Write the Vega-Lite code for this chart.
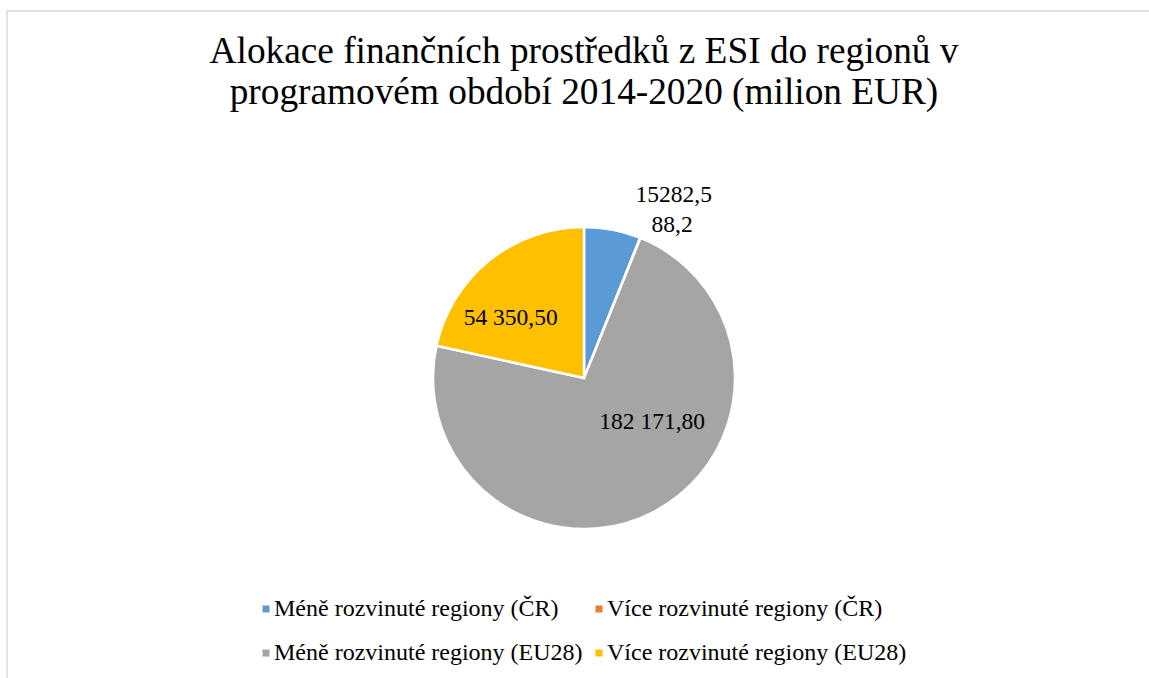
{
  "$schema": "https://vega.github.io/schema/vega-lite/v6.json",
  "width": 1154,
  "height": 734,
  "autosize": {"type": "none"},
  "padding": {"left": 7, "top": 11, "right": -12, "bottom": -67},
  "background": "white",
  "view": {"stroke": "#d9d9d9", "strokeWidth": 1.5, "fill": "white"},
  "config": {
    "view": {"stroke": "#d9d9d9", "strokeWidth": 1.5},
    "font": "Liberation Serif"
  },
  "title": {
    "text": ["Alokace finančních prostředků z ESI do regionů v", "programovém období 2014-2020 (milion EUR)"],
    "font": "Liberation Serif",
    "fontSize": 37.3,
    "fontWeight": "normal",
    "color": "#000000",
    "lineHeight": 41,
    "anchor": "middle",
    "frame": "group",
    "offset": -101
  },
  "data": {
    "values": [
      {"poradi": 1, "kategorie": "Méně rozvinuté regiony (ČR)", "hodnota": 15282.5, "popisek": "15282,5"},
      {"poradi": 2, "kategorie": "Více rozvinuté regiony (ČR)", "hodnota": 88.2, "popisek": "88,2"},
      {"poradi": 3, "kategorie": "Méně rozvinuté regiony (EU28)", "hodnota": 182171.8, "popisek": "182 171,80"},
      {"poradi": 4, "kategorie": "Více rozvinuté regiony (EU28)", "hodnota": 54350.5, "popisek": "54 350,50"}
    ]
  },
  "layer": [
    {
      "mark": {"type": "arc", "outerRadius": 151, "stroke": "white", "strokeWidth": 2.5},
      "encoding": {
        "theta": {"field": "hodnota", "type": "quantitative", "stack": true},
        "order": {"field": "poradi", "type": "quantitative", "sort": "ascending"},
        "color": {
          "field": "kategorie",
          "type": "nominal",
          "sort": ["Méně rozvinuté regiony (ČR)", "Více rozvinuté regiony (ČR)", "Méně rozvinuté regiony (EU28)", "Více rozvinuté regiony (EU28)"],
          "scale": {
            "domain": ["Méně rozvinuté regiony (ČR)", "Více rozvinuté regiony (ČR)", "Méně rozvinuté regiony (EU28)", "Více rozvinuté regiony (EU28)"],
            "range": ["#5B9BD5", "#ED7D31", "#A5A5A5", "#FFC000"]
          },
          "legend": {
            "title": null,
            "orient": "none",
            "legendX": 247,
            "legendY": 586,
            "direction": "horizontal",
            "columns": 2,
            "symbolType": "square",
            "symbolSize": 49,
            "symbolStrokeWidth": 0,
            "labelFont": "Liberation Serif",
            "labelFontSize": 24,
            "labelColor": "#000000",
            "labelOffset": -4,
            "labelLimit": 500,
            "rowPadding": 20,
            "columnPadding": 4,
            "padding": 0
          }
        }
      }
    },
    {
      "mark": {"type": "text", "radius": 93, "dx": -15, "dy": 12, "fontSize": 23.5, "font": "Liberation Serif", "align": "center", "baseline": "middle"},
      "encoding": {
        "theta": {"field": "hodnota", "type": "quantitative", "stack": true},
        "order": {"field": "poradi", "type": "quantitative", "sort": "ascending"},
        "color": {"field": "kategorie", "type": "nominal", "scale": {"range": ["#000000"]}, "legend": null},
        "text": {"condition": {"test": "datum.kategorie === 'Více rozvinuté regiony (EU28)'", "field": "popisek"}, "value": ""}
      }
    },
    {
      "mark": {"type": "text", "radius": 71, "dx": 35, "dy": -19, "fontSize": 23.5, "font": "Liberation Serif", "align": "center", "baseline": "middle"},
      "encoding": {
        "theta": {"field": "hodnota", "type": "quantitative", "stack": true},
        "order": {"field": "poradi", "type": "quantitative", "sort": "ascending"},
        "color": {"field": "kategorie", "type": "nominal", "scale": {"range": ["#000000"]}, "legend": null},
        "text": {"condition": {"test": "datum.kategorie === 'Méně rozvinuté regiony (EU28)'", "field": "popisek"}, "value": ""}
      }
    },
    {
      "mark": {"type": "text", "radius": 188, "dx": 16, "dy": 2, "fontSize": 23.5, "font": "Liberation Serif", "align": "left", "baseline": "middle"},
      "encoding": {
        "theta": {"field": "hodnota", "type": "quantitative", "stack": true},
        "order": {"field": "poradi", "type": "quantitative", "sort": "ascending"},
        "color": {"field": "kategorie", "type": "nominal", "scale": {"range": ["#000000"]}, "legend": null},
        "text": {"condition": {"test": "datum.kategorie === 'Méně rozvinuté regiony (ČR)'", "field": "popisek"}, "value": ""}
      }
    },
    {
      "mark": {"type": "text", "radius": 165, "dx": 6, "dy": 0, "fontSize": 23.5, "font": "Liberation Serif", "align": "left", "baseline": "middle"},
      "encoding": {
        "theta": {"field": "hodnota", "type": "quantitative", "stack": true},
        "order": {"field": "poradi", "type": "quantitative", "sort": "ascending"},
        "color": {"field": "kategorie", "type": "nominal", "scale": {"range": ["#000000"]}, "legend": null},
        "text": {"condition": {"test": "datum.kategorie === 'Více rozvinuté regiony (ČR)'", "field": "popisek"}, "value": ""}
      }
    }
  ],
  "resolve": {"scale": {"color": "independent", "theta": "shared"}}
}
